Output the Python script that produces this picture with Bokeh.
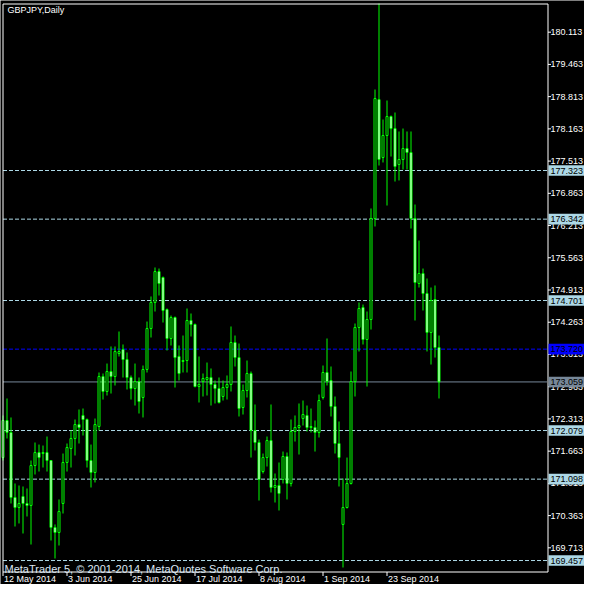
from bokeh.plotting import figure
from bokeh.models import Range1d, ColumnDataSource
from bokeh.embed import file_html
from bokeh.resources import INLINE
from bokeh.core.properties import value

chart_title = "GBPJPY,Daily"
copyright_text = "MetaTrader 5, \u00a9 2001-2014, MetaQuotes Software Corp."

# Daily OHLC, one entry per trading day starting 12 May 2014
opens = [171.534, 172.281, 172.039, 170.728, 170.526, 170.748, 170.607, 170.567, 171.373, 171.635,
         171.615, 171.635, 171.474, 170.123, 170.022, 170.607, 171.434, 171.716, 171.918, 172.200,
         172.382, 172.301, 171.474, 171.232, 172.160, 173.168, 172.866, 173.269, 173.168, 173.632,
         173.713, 173.511, 173.148, 172.926, 173.067, 172.745, 173.310, 174.136, 174.661, 175.286,
         175.165, 174.519, 173.935, 174.358, 173.572, 173.491, 173.491, 174.298, 174.217, 172.966,
         173.067, 173.108, 173.148, 173.007, 172.926, 172.765, 172.946, 173.007, 173.854, 173.551,
         172.543, 172.886, 173.229, 172.079, 171.837, 171.252, 171.534, 171.877, 170.930, 170.970,
         171.091, 171.555, 171.011, 172.059, 172.140, 172.321, 172.382, 172.160, 172.140, 172.039,
         172.745, 173.249, 173.088, 172.563, 171.817, 170.184, 170.526, 171.011, 173.067, 174.157,
         174.560, 173.915, 174.318, 176.355, 178.755, 177.585, 178.029, 178.412, 178.170, 177.444,
         177.545, 177.767, 177.686, 176.355, 175.044, 175.246, 174.842, 174.056, 174.721, 173.753]
highs = [172.382, 172.725, 172.342, 171.011, 170.970, 170.950, 170.910, 171.474, 171.837, 171.796,
         171.776, 171.958, 171.480, 170.184, 170.688, 171.615, 171.817, 172.079, 172.301, 172.503,
         172.523, 172.321, 171.796, 172.321, 173.249, 173.229, 173.430, 173.774, 173.774, 174.076,
         173.814, 173.653, 173.189, 173.430, 173.148, 173.390, 174.277, 174.782, 175.367, 175.346,
         175.185, 174.540, 174.398, 174.378, 173.794, 173.995, 174.540, 174.439, 174.237, 173.572,
         173.229, 173.450, 173.330, 173.088, 173.148, 173.088, 173.189, 174.177, 173.995, 173.834,
         173.007, 173.491, 173.269, 172.604, 171.897, 171.615, 171.958, 172.604, 171.212, 171.434,
         171.655, 171.635, 172.301, 172.382, 172.624, 172.684, 172.583, 172.523, 172.281, 172.805,
         173.390, 173.935, 173.370, 172.765, 172.261, 171.111, 171.534, 173.269, 174.237, 174.661,
         174.620, 174.479, 176.557, 178.957, 180.690, 178.352, 178.735, 178.432, 178.493, 178.110,
         178.170, 178.110, 178.110, 176.637, 175.911, 175.346, 175.145, 174.963, 175.004, 173.995]
lows = [171.474, 171.918, 170.607, 170.143, 170.204, 170.002, 170.345, 169.780, 171.192, 171.252,
        171.333, 171.252, 169.861, 169.498, 169.760, 170.405, 171.252, 171.333, 171.575, 171.817,
        171.978, 171.333, 170.930, 171.031, 172.079, 172.704, 172.785, 172.825, 172.987, 173.572,
        173.148, 172.906, 172.704, 172.583, 172.422, 172.342, 173.249, 173.955, 174.479, 174.802,
        174.257, 173.693, 173.794, 172.946, 173.088, 173.249, 173.249, 173.975, 172.950, 172.644,
        172.765, 172.785, 172.583, 172.624, 172.624, 172.684, 172.704, 172.866, 173.370, 172.362,
        172.402, 172.745, 171.534, 171.676, 170.667, 171.212, 171.353, 170.829, 170.627, 170.466,
        171.011, 170.688, 170.950, 171.857, 171.595, 172.180, 172.059, 172.039, 171.655, 171.938,
        172.704, 172.987, 172.362, 171.615, 170.950, 169.316, 170.506, 170.990, 172.765, 173.673,
        173.814, 172.966, 174.116, 176.194, 177.424, 177.485, 176.617, 177.605, 177.101, 177.122,
        177.343, 177.343, 176.153, 174.298, 174.963, 174.499, 173.673, 173.410, 173.551, 172.725]
closes = [172.281, 172.039, 170.728, 170.526, 170.607, 170.607, 170.567, 171.373, 171.635, 171.534,
          171.635, 171.474, 170.123, 170.022, 170.446, 171.434, 171.736, 171.918, 172.200, 172.140,
          172.301, 171.474, 171.232, 172.200, 173.168, 172.866, 173.269, 173.168, 173.673, 173.673,
          173.511, 173.148, 172.926, 173.067, 172.664, 173.310, 174.136, 174.661, 175.286, 175.044,
          174.499, 173.935, 174.358, 173.551, 173.229, 173.471, 174.298, 174.217, 172.966, 173.007,
          173.128, 173.148, 173.007, 172.926, 172.644, 172.946, 173.007, 173.854, 173.551, 172.523,
          172.886, 173.229, 172.079, 171.837, 171.091, 171.534, 171.877, 170.930, 170.970, 170.809,
          171.555, 171.011, 172.059, 172.140, 172.180, 172.402, 172.140, 172.140, 172.039, 172.684,
          173.249, 173.067, 172.563, 171.817, 171.534, 170.526, 171.011, 173.067, 174.157, 174.540,
          173.915, 174.318, 176.355, 178.775, 177.545, 178.029, 178.412, 178.170, 177.404, 177.545,
          177.767, 177.686, 176.355, 175.064, 175.246, 174.842, 174.056, 174.701, 173.753, 173.059]

date_tick_bars = [0, 16, 32, 48, 64, 80, 96]
date_tick_labels = ["12 May 2014", "3 Jun 2014", "25 Jun 2014", "17 Jul 2014",
                    "8 Aug 2014", "1 Sep 2014", "23 Sep 2014"]
price_ticks = [169.713, 170.363, 171.013, 171.663, 172.313, 172.963, 173.613, 174.263, 174.913,
               175.563, 176.213, 176.863, 177.513, 178.163, 178.813, 179.463, 180.113]
dashed_levels = [177.323, 176.342, 174.701, 172.079, 171.098, 169.457]
blue_level = 173.720
bid_level = 173.059

GREEN = "#00FF00"
LIGHTBLUE = "#ADD8E6"
FONT = "Liberation Sans"

# ---- canvas geometry (pixels) -> scale helpers ----
W = H = 584
PX_PER_BAR, BAR0_PX = 4.0, 2.5          # horizontal scale: bar index -> pixel
TOP_PRICE, PRICE_PER_PX = 180.752, 0.020169   # vertical scale: pixel row -> price


def dx(px):
    return (px - BAR0_PX) / PX_PER_BAR


def dy(py):
    return TOP_PRICE - py * PRICE_PER_PX


BORDER_L, BORDER_R, BORDER_T, BORDER_B = 2.5, 547.5, 3.5, 571.5
SCALE_TEXT_X = 550

p = figure(width=W, height=H, x_range=Range1d(dx(0), dx(W)), y_range=Range1d(dy(H), dy(0)),
           x_axis_location=None, y_axis_location=None,
           output_backend="svg", toolbar_location=None,
           min_border_left=0, min_border_right=0, min_border_top=0, min_border_bottom=0,
           background_fill_color="black", border_fill_color="black", outline_line_color=None)
p.grid.visible = False

# ---- horizontal levels (drawn behind the candles) ----
for lvl in dashed_levels:
    p.segment(x0=dx(BORDER_L), x1=dx(BORDER_R - 1), y0=lvl, y1=lvl, line_color=LIGHTBLUE,
              line_dash="4 2", line_width=1, level="underlay")
p.segment(x0=dx(BORDER_L), x1=dx(BORDER_R - 1), y0=blue_level, y1=blue_level, line_color="#0000FF",
          line_dash="4 2", line_width=1, level="underlay")
p.segment(x0=dx(BORDER_L), x1=dx(BORDER_R - 1), y0=bid_level, y1=bid_level, line_color="#778899",
          line_width=1, level="underlay")

# ---- candles ----
bars = list(range(len(opens)))
src = ColumnDataSource(dict(
    x=bars, high=highs, low=lows,
    top=[max(o, c) for o, c in zip(opens, closes)],
    bottom=[min(o, c) for o, c in zip(opens, closes)],
    fill=["black" if c > o else "white" for o, c in zip(opens, closes)],
))
p.segment(x0="x", y0="high", x1="x", y1="low", source=src, line_color=GREEN, line_width=1)
p.vbar(x="x", width=0.5, top="top", bottom="bottom", source=src,
       fill_color="fill", line_color=GREEN, line_width=1)

# ---- chart border ----
p.quad(left=dx(BORDER_L), right=dx(BORDER_R), top=dy(BORDER_T), bottom=dy(BORDER_B),
       fill_color=None, line_color="white", line_width=1)

# ---- right price scale ----
p.segment(x0=[dx(BORDER_R)] * len(price_ticks), x1=[dx(BORDER_R + 3)] * len(price_ticks),
          y0=price_ticks, y1=price_ticks, line_color="white", line_width=1)
p.text(x=[dx(SCALE_TEXT_X)] * len(price_ticks), y=price_ticks, text=[f"{t:.3f}" for t in price_ticks],
       text_font=value(FONT), text_font_size="9px", text_color="white",
       text_baseline="middle", text_align="left")

# ---- level price boxes on the scale ----
box_levels = dashed_levels + [blue_level, bid_level]
box_colors = [LIGHTBLUE] * len(dashed_levels) + ["#0000FF", "#778899"]
half_box = 5.3 * PRICE_PER_PX
p.quad(left=[dx(548)] * len(box_levels), right=[dx(W)] * len(box_levels),
       top=[v + half_box for v in box_levels], bottom=[v - half_box for v in box_levels],
       fill_color=box_colors, line_color=None)
p.text(x=[dx(SCALE_TEXT_X)] * len(box_levels), y=box_levels, text=[f"{v:.3f}" for v in box_levels],
       text_font=value(FONT), text_font_size="9px", text_color="black",
       text_baseline="middle", text_align="left")

# ---- time scale ----
p.segment(x0=date_tick_bars, x1=date_tick_bars, y0=[dy(BORDER_B)] * len(date_tick_bars),
          y1=[dy(BORDER_B + 4)] * len(date_tick_bars), line_color="white", line_width=1)
p.text(x=date_tick_bars, y=[dy(578.5)] * len(date_tick_bars), text=date_tick_labels,
       x_offset=1, text_font=value(FONT), text_font_size="9px", text_color="white",
       text_baseline="alphabetic", text_align="left")

# ---- captions ----
p.text(x=[dx(7)], y=[dy(4)], text=[chart_title], text_font=value(FONT), text_font_size="9px",
       text_color="white", text_baseline="top", text_align="left")
p.text(x=[dx(4)], y=[dy(568.5)], text=[copyright_text], text_font=value(FONT),
       text_font_size="11px", text_color="#DCE8F4", text_baseline="alphabetic", text_align="left")

open("out.html", "w").write(file_html(p, INLINE))
